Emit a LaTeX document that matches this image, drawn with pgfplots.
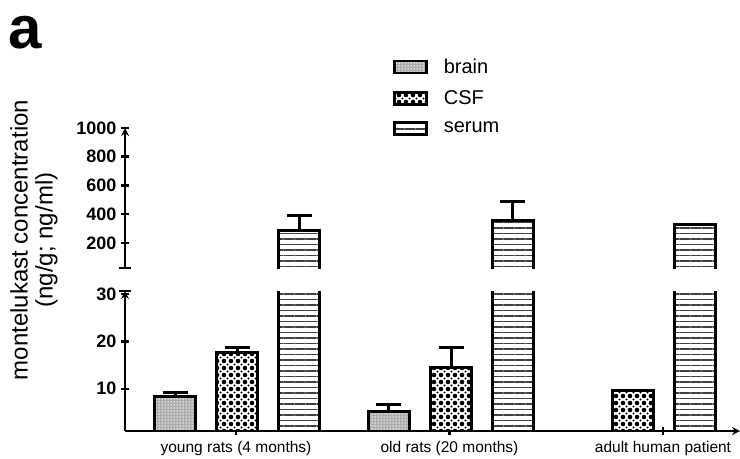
\documentclass[border=0pt]{standalone}
\usepackage{fontspec}
\setmainfont{Liberation Sans}
\usepackage{pgfplots}
\pgfplotsset{compat=1.18}
\usetikzlibrary{patterns.meta}

\tikzset{
 brainfill/.style={fill=gray!65, postaction={pattern={Dots[distance=3bp,radius=0.75bp]}, pattern color=white}},
 csffill/.style={fill=white,
   postaction={pattern={Dots[distance=7bp,radius=2.3bp]}, pattern color=black},
   postaction={pattern={Dots[distance=7bp,radius=1.2bp,xshift=3.5bp,yshift=3.5bp]}, pattern color=black}},
 serumfill/.style={fill=white, postaction={pattern={Lines[angle=0,distance=5.5bp,line width=1.4bp]}, pattern color=black!75}},
}

\pgfplotsset{
 base/.style={scale only axis, width=615bp, height=140bp, xmin=125, xmax=740, clip=true,
  axis line style={line width=2.5bp, -, black},
  major tick style={line width=2.5bp, black}, major tick length=8bp, tick align=outside,
  ybar, bar width=41,
  scaled y ticks=false,
  /pgf/number format/assume math mode=true, /pgf/number format/1000 sep={},
  yticklabel style={font=\bfseries\fontsize{18bp}{20bp}\selectfont, xshift=-1bp},
  error bars/error bar style={line width=3bp, black},
  error bars/error mark=|,
  error bars/error mark options={line width=3bp, mark size=12.5bp, black},
  extra y tick labels={},
  extra y tick style={tick align=center, major tick length=12bp},
 },
 mylegend/.style={legend image code/.code={\draw[##1, line width=2.5bp, draw=black] (0bp,-6bp) rectangle (32bp,6bp);}},
 barstyle/.style={draw=black, line width=3bp, bar shift=0},
 outline/.style={sharp plot, black, line width=3bp, mark=none, forget plot},
}

\begin{document}
\begin{tikzpicture}
\useasboundingbox (0bp,0bp) rectangle (740bp,-459bp);

% lower axis
\begin{axis}[base, at={(125bp,-431bp)}, anchor=south west,
  ymin=1.1, ymax=30.6, ytick={10,20,30},
  axis x line=bottom, axis y line=left,
  xtick={236,449.5,663},
  xticklabels={young rats (4 months), old rats (20 months), adult human patient},
  xticklabel style={font=\fontsize{15.5bp}{17bp}\selectfont, yshift=-3bp},
  extra y ticks={30.6}]
\addplot[barstyle, brainfill, error bars/.cd, y dir=plus, y explicit]
  coordinates {(175,8.3) +- (0,1.0) (388.5,5.3) +- (0,1.3)};
\addplot[barstyle, csffill, error bars/.cd, y dir=plus, y explicit]
  coordinates {(237,17.6) +- (0,1.2) (451,14.5) +- (0,4.3)};
\addplot[barstyle, csffill] coordinates {(632.5,9.6)};
\addplot[barstyle, serumfill] coordinates {(299,283) (512.5,359) (695,325)};
\end{axis}

% upper axis
\begin{axis}[base, at={(125bp,-268bp)}, anchor=south west,
  ymin=25, ymax=1000, ytick={200,400,600,800,1000},
  axis x line=none, axis y line=left,
  extra y ticks={25},
  legend style={draw=none, fill=none, at={(axis description cs:0.436,1.51)}, anchor=north west,
    font=\fontsize{20bp}{24bp}\selectfont, row sep=12bp, inner sep=0pt, cells={anchor=west},
    /tikz/every odd column/.append style={column sep=14bp}}]
\addlegendimage{barstyle, brainfill, mylegend}
\addlegendentry{brain}
\addlegendimage{barstyle, csffill, mylegend}
\addlegendentry{CSF}
\addlegendimage{barstyle, serumfill, mylegend}
\addlegendentry{serum}
% serum bars: fill from the axis bottom, outline open at the break
\addplot[bar shift=0, draw=none, serumfill, forget plot, error bars/.cd, y dir=plus, y explicit]
  coordinates {(299,283) +- (0,111) (512.5,359) +- (0,128)};
\addplot[bar shift=0, draw=none, serumfill, forget plot] coordinates {(695,325)};
\addplot[outline] coordinates {(278.5,0) (278.5,283) (319.5,283) (319.5,0)};
\addplot[outline] coordinates {(492,0) (492,359) (533,359) (533,0)};
\addplot[outline] coordinates {(674.5,0) (674.5,325) (715.5,325) (715.5,0)};
\end{axis}

\node[rotate=90, align=center, font=\fontsize{24bp}{25bp}\selectfont] at (34bp,-240bp)
  {montelukast concentration\\(ng/g; ng/ml)};
\node[font=\bfseries\fontsize{60bp}{60bp}\selectfont, anchor=base west, inner sep=0pt] at (8bp,-48bp) {a};
\end{tikzpicture}
\end{document}
